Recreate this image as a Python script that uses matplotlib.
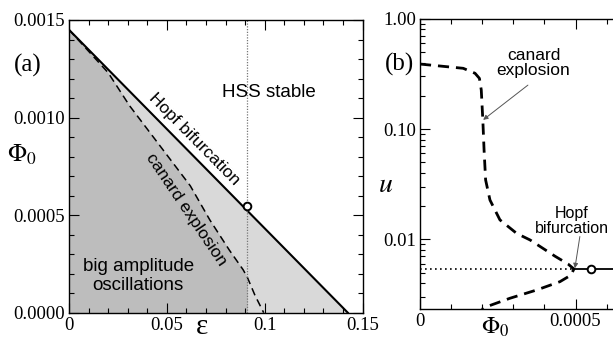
import matplotlib
matplotlib.use("Agg")
import matplotlib.pyplot as plt
from matplotlib.ticker import MultipleLocator, LogLocator, NullFormatter, FixedLocator, FixedFormatter

plt.rcParams['font.family'] = 'Liberation Serif'
plt.rcParams['mathtext.fontset'] = 'stix'

# panel (a): phase diagram in (epsilon, Phi0)
hopf_eps = [0.0, 0.1425]
hopf_phi = [0.00145, 0.0]

canard_eps = [0.0, 0.01, 0.02, 0.031, 0.045, 0.062, 0.072, 0.082, 0.089, 0.0912, 0.095, 0.0995]
canard_phi = [0.00145, 0.00134, 0.00123, 0.00106, 0.000875, 0.00065, 0.000475, 0.00032,
              0.00022, 0.00018, 0.00009, 0.0]

eps_cut = 0.0912        # dotted vertical line
point_a = (0.0909, 0.000547)

# panel (b): u versus Phi0 at eps = eps_cut
branch_phi = [0.0, 0.000139, 0.000177, 0.000191, 0.000197, 0.000202, 0.000206, 0.000211,
              0.000225, 0.000257, 0.000311, 0.000354, 0.000434, 0.000476, 0.000495,
              0.000485, 0.00045, 0.000375, 0.000289, 0.000209, 0.000199]
branch_u = [0.388, 0.355, 0.320, 0.288, 0.226, 0.121, 0.0645, 0.0345,
            0.0227, 0.0150, 0.0113, 0.00986, 0.00703, 0.00597, 0.00538,
            0.00473, 0.00413, 0.00347, 0.00292, 0.00242, 0.00232]
hss_u = 0.00538
hopf_phi0 = 0.000495
point_b = (0.000549, 0.00538)

fig = plt.figure(figsize=(6.13, 3.39), dpi=100)

# ---------------- (a)
ax = fig.add_axes([69/613, 1-312.7/339, 293.5/613, 292.7/339])
ax.fill_between(hopf_eps, hopf_phi, 0, color='#d9d9d9', lw=0)
n = canard_eps.index(eps_cut) + 1
ax.fill_between(canard_eps[:n], canard_phi[:n], 0, color='#bdbdbd', lw=0)
ax.plot(hopf_eps, hopf_phi, color='black', lw=1.5)
ax.plot(canard_eps, canard_phi, color='black', lw=1.1, dashes=(5, 3))
ax.plot([eps_cut, eps_cut], [0, 0.0015], color='#777777', lw=0.9, ls=(0, (1, 1.2)))
ax.plot(*point_a, 'o', ms=5.5, mfc='white', mec='black', mew=1.4)

ax.set_xlim(0, 0.15)
ax.set_ylim(0, 0.0015)
ax.xaxis.set_major_locator(FixedLocator([0, 0.05, 0.1, 0.15]))
ax.xaxis.set_major_formatter(FixedFormatter(['0', '0.05', '0.1', '0.15']))
ax.xaxis.set_minor_locator(MultipleLocator(0.01))
ax.yaxis.set_major_locator(FixedLocator([0, 0.0005, 0.001, 0.0015]))
ax.yaxis.set_major_formatter(FixedFormatter(['0.0000', '0.0005', '0.0010', '0.0015']))
ax.yaxis.set_minor_locator(MultipleLocator(0.0001))

sans = 'Liberation Sans'
ax.text(0.1023, 0.001126, 'HSS stable', family=sans, fontsize=13.5, ha='center', va='center')
ax.text(0.0641, 0.000890, 'Hopf bifurcation', family=sans, fontsize=12.5,
        ha='center', va='center', rotation=-45.4, rotation_mode='anchor')
ax.text(0.0597, 0.000530, 'canard explosion', family=sans, fontsize=12.5,
        ha='center', va='center', rotation=-56, rotation_mode='anchor')
ax.text(0.0353, 0.000188, 'big amplitude\noscillations', family=sans, fontsize=13.5,
        ha='center', va='center', linespacing=1.15)

# ---------------- (b)
bx = fig.add_axes([420/613, 1-309.3/339, 248.8/613, 290.6/339])
bx.set_yscale('log')
bx.plot(branch_phi, branch_u, color='black', lw=2, dashes=(4, 2.5))
bx.plot([0, hopf_phi0], [hss_u, hss_u], color='black', lw=1.2, ls=(0, (1, 2)))
bx.plot([hopf_phi0, 0.0008], [hss_u, hss_u], color='black', lw=1.3)
bx.plot(*point_b, 'o', ms=5.5, mfc='white', mec='black', mew=1.4, zorder=5)

bx.set_xlim(0, 0.0008)
bx.set_ylim(0.00232, 1.0)
bx.xaxis.set_major_locator(FixedLocator([0, 0.0005]))
bx.xaxis.set_major_formatter(FixedFormatter(['0', '0.0005']))
bx.xaxis.set_minor_locator(MultipleLocator(0.0001))
bx.yaxis.set_major_locator(FixedLocator([0.01, 0.1, 1.0]))
bx.yaxis.set_major_formatter(FixedFormatter(['0.01', '0.10', '1.00']))
bx.yaxis.set_minor_locator(LogLocator(base=10, subs=range(2, 10)))
bx.yaxis.set_minor_formatter(NullFormatter())

bx.text(0.000365, 0.40, 'canard\nexplosion', family=sans, fontsize=12.5,
        ha='center', va='center', linespacing=1.0)
bx.annotate('', xy=(0.000203, 0.121), xytext=(0.000347, 0.25),
            arrowprops=dict(arrowstyle='-|>', color='#555555', lw=0.7,
                            mutation_scale=7, shrinkA=0, shrinkB=0))
bx.text(0.000487, 0.0147, 'Hopf\nbifurcation', family=sans, fontsize=11.5,
        ha='center', va='center', linespacing=1.0)
bx.annotate('', xy=(0.000498, 0.00547), xytext=(0.000514, 0.0106),
            arrowprops=dict(arrowstyle='-|>', color='#555555', lw=0.7,
                            mutation_scale=7, shrinkA=0, shrinkB=0))

for a in (ax, bx):
    a.tick_params(which='both', direction='in', top=True, right=True,
                  labelsize=13.5, width=0.8)
    a.tick_params(which='major', length=7)
    a.tick_params(which='minor', length=3.5)
    a.tick_params(axis='x', pad=3)
    a.tick_params(axis='y', pad=3)
    for s in a.spines.values():
        s.set_linewidth(1.0)

# panel letters and axis labels
fig.text(28/613, 1-65/339, '(a)', fontsize=18, ha='center', va='center')
fig.text(22/613, 1-155/339, r'$\Phi_0$', fontsize=18, ha='center', va='center')
fig.text(202/613, 1-327/339, 'ε', fontsize=21, ha='center', va='center')
fig.text(399/613, 1-64/339, '(b)', fontsize=18, ha='center', va='center')
fig.text(386/613, 1-185/339, r'$u$', fontsize=20, ha='center', va='center')
fig.text(495/613, 1-327/339, r'$\Phi_0$', fontsize=17, ha='center', va='center')

fig.savefig('out.png', dpi=100)
